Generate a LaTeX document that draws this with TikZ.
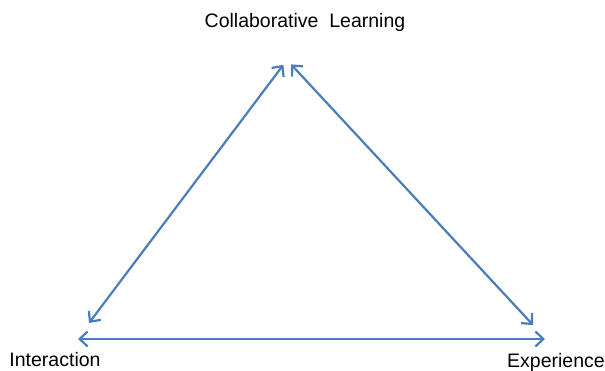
\documentclass[tikz,border=0pt]{standalone}
\usepackage{fontspec}
\setmainfont{Liberation Sans}
\usepackage{tikz}
\usetikzlibrary{arrows.meta}
\usetikzlibrary{positioning}
\usepackage{xcolor}
\definecolor{myblue}{HTML}{4A7EBB}
\tikzset{every text node part/.style={align=center, font={\fontsize{19.5}{22}\selectfont}}}
\tikzstyle{lbl} = [inner sep=0pt, outer sep=0pt]
\tikzstyle{ln} = [draw=myblue, line width=2.2pt, {Straight Barb[length=8pt,width=15pt]}-{Straight Barb[length=8pt,width=15pt]}]

\begin{document}
\begin{tikzpicture}[x=1pt, y=1pt]
  \useasboundingbox (0,0) rectangle (605,370);
  % corners of the triangle
  \coordinate (top) at (287,310);
  \coordinate (lft) at (77,31);
  \coordinate (rgt) at (546,31);
  % labels
  \node[lbl] (collab) at (305,348) {Collaborative\ \ Learning};
  \node[lbl] (inter) at (55,10) {Interaction};
  \node[lbl] (exper) at (556,8) {Experience};
  % edges
  \draw[ln, shorten <=20pt, shorten >=6pt] (lft) -- (top);
  \draw[ln, shorten <=6pt, shorten >=19pt] (top) -- (rgt);
  \draw[ln, shorten <=1pt, shorten >=1pt] (lft) -- (rgt);
\end{tikzpicture}
\end{document}
